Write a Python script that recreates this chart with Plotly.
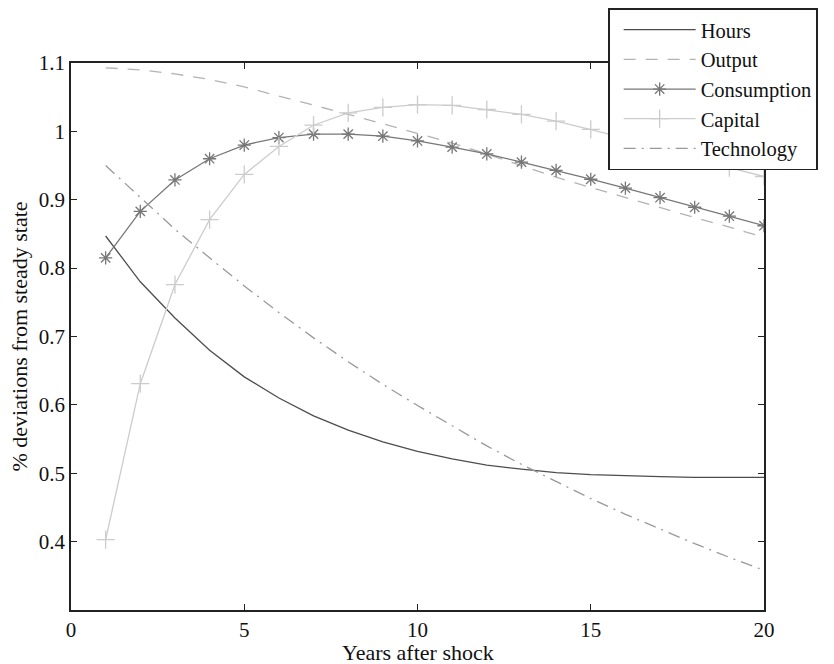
import plotly.graph_objects as go

years = list(range(1, 21))

hours = [0.847, 0.780, 0.727, 0.680, 0.641, 0.610, 0.584, 0.563, 0.546, 0.532,
         0.521, 0.512, 0.506, 0.501, 0.498, 0.496, 0.495, 0.494, 0.494, 0.494]
output = [1.093, 1.090, 1.084, 1.076, 1.065, 1.052, 1.039, 1.025, 1.011, 0.997,
          0.983, 0.967, 0.950, 0.933, 0.918, 0.903, 0.889, 0.874, 0.860, 0.845]
consumption = [0.815, 0.883, 0.929, 0.960, 0.980, 0.991, 0.996, 0.996, 0.993, 0.986,
               0.977, 0.967, 0.955, 0.943, 0.930, 0.917, 0.903, 0.889, 0.876, 0.862]
capital = [0.403, 0.631, 0.776, 0.871, 0.937, 0.978, 1.009, 1.027, 1.035, 1.039,
           1.038, 1.032, 1.025, 1.015, 1.003, 0.990, 0.976, 0.961, 0.947, 0.934]
technology = [0.950, 0.903, 0.857, 0.815, 0.774, 0.735, 0.698, 0.663, 0.630, 0.599,
              0.569, 0.540, 0.513, 0.488, 0.463, 0.440, 0.418, 0.397, 0.377, 0.358]

x_ticks = [0, 5, 10, 15, 20]
y_ticks = [0.4, 0.5, 0.6, 0.7, 0.8, 0.9, 1.0, 1.1]
y_tick_text = ["0.4", "0.5", "0.6", "0.7", "0.8", "0.9", "1", "1.1"]

FONT = "Liberation Serif"
TXT = "#111111"

fig = go.Figure()
fig.add_trace(go.Scatter(x=years, y=hours, name="Hours", mode="lines",
                         line=dict(color="#4d4d4d", width=1.3)))
fig.add_trace(go.Scatter(x=years, y=output, name="Output", mode="lines",
                         line=dict(color="#b3b3b3", width=1.3, dash="12px,10px")))
fig.add_trace(go.Scatter(x=years, y=consumption, name="Consumption", mode="lines+markers",
                         line=dict(color="#777777", width=1.3),
                         marker=dict(symbol="asterisk-open", size=11,
                                     line=dict(color="#777777", width=1.3))))
fig.add_trace(go.Scatter(x=years, y=capital, name="Capital", mode="lines+markers",
                         line=dict(color="#cccccc", width=1.3),
                         marker=dict(symbol="cross-thin-open", size=13,
                                     line=dict(color="#cccccc", width=1.3))))
fig.add_trace(go.Scatter(x=years, y=technology, name="Technology", mode="lines",
                         line=dict(color="#999999", width=1.3, dash="12px,6px,2px,6px")))

axis_common = dict(showline=True, linecolor="#222222", linewidth=1.6, mirror="ticks",
                   ticks="inside", ticklen=6, tickcolor="#222222", tickwidth=1.3,
                   showgrid=False, zeroline=False, automargin=False,
                   tickfont=dict(family=FONT, size=21, color=TXT))

fig.update_xaxes(range=[0, 20], tickvals=x_ticks, **axis_common)
fig.update_yaxes(range=[0.3, 1.1], tickvals=y_ticks, ticktext=y_tick_text, **axis_common)

fig.add_annotation(text="Years after shock", xref="paper", yref="paper",
                   x=0.5, y=0, yshift=-42, xanchor="center", yanchor="middle",
                   showarrow=False, font=dict(family=FONT, size=22, color=TXT))
fig.add_annotation(text="% deviations from steady state", xref="paper", yref="paper",
                   x=0, y=0.5, xshift=-52, xanchor="center", yanchor="middle", textangle=-90,
                   showarrow=False, font=dict(family=FONT, size=22, color=TXT))

fig.update_layout(
    width=834, height=664,
    margin=dict(l=63, r=78, t=55, b=62, autoexpand=False),
    plot_bgcolor="white", paper_bgcolor="white",
    font=dict(family=FONT, size=21, color=TXT),
    legend=dict(x=0.775, y=1.1, xanchor="left", yanchor="top",
                bgcolor="white", bordercolor="#222222", borderwidth=1.6,
                font=dict(family=FONT, size=20.5, color=TXT),
                itemwidth=72, indentation=9, tracegroupgap=0),
    showlegend=True,
)

fig.write_html("out.html")
